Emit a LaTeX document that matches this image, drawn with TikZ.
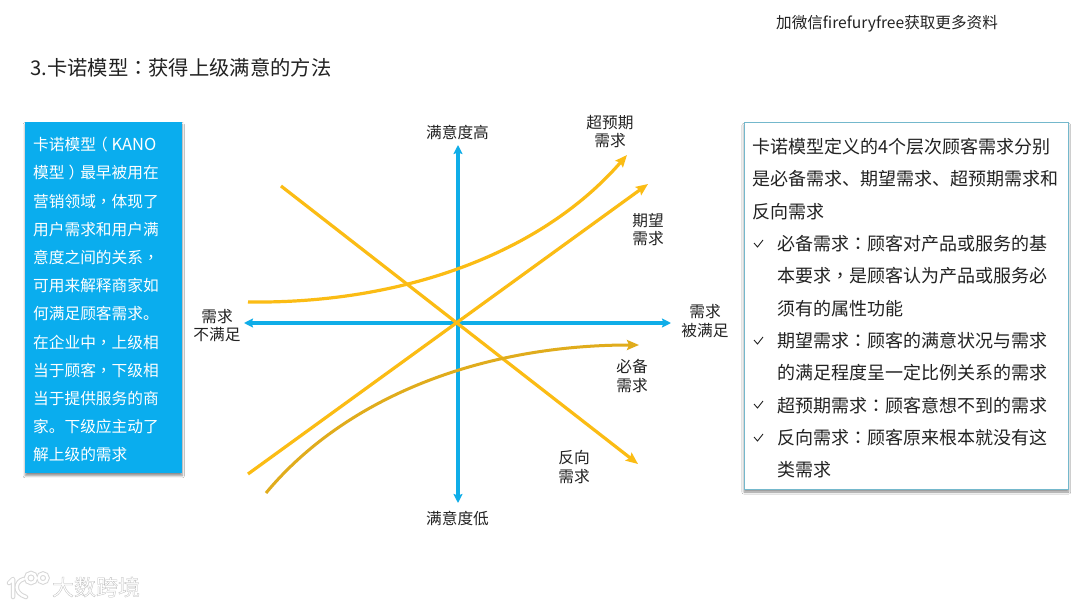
\documentclass[tikz,border=0pt]{standalone}
\usepackage{fontspec}
\setmainfont{Noto Sans CJK SC}
\newfontfamily\punctfont{Noto Sans CJK TC}
\newfontfamily\wmfont[FakeBold=1.2]{Noto Sans CJK SC}
\newcommand{\pc}{{\punctfont ，}}
\newcommand{\pk}{{\punctfont ：}}
\newcommand{\plp}{\makebox[1em][l]{\kern-0.25em（}}
\newcommand{\prp}{\makebox[1em][l]{\kern0.25em）}}
\usetikzlibrary{arrows.meta,shadows.blur}
\definecolor{axisblue}{HTML}{0FADE8}
\definecolor{curveyellow}{HTML}{FBBC14}
\definecolor{curvegold}{HTML}{E0AC1C}
\definecolor{boxblue}{HTML}{0AADEE}
\definecolor{boxline}{HTML}{74B8CC}
\definecolor{inktext}{HTML}{222222}
\tikzset{
  axisline/.style={axisblue,line width=3.2pt,{Stealth[length=9pt,width=9pt,inset=1.5pt]}-{Stealth[length=9pt,width=9pt,inset=1.5pt]}},
  curveline/.style={curveyellow,line width=3.2pt,-{Stealth[length=12pt,width=10pt,inset=2pt]}},
  goldline/.style={curvegold,line width=3pt,-{Stealth[length=12pt,width=10pt,inset=2pt]}},
  lab/.style={text=inktext,font=\fontsize{15.7}{18.5}\selectfont,align=center,inner sep=0pt},
  para/.style={text=inktext,anchor=north west,inner sep=0pt,align=left,font=\fontsize{18}{32.4}\selectfont},
  chk/.style={inktext,line width=0.9pt},
  softshadow/.style={blur shadow={shadow xshift=0pt,shadow yshift=-2.5pt,shadow blur steps=6,shadow opacity=45}},
  wm/.style={font=\wmfont\fontsize{22}{22}\selectfont,inner sep=0pt,anchor=center}
}
\begin{document}
\begin{tikzpicture}[x=1pt,y=-1pt]
\useasboundingbox (0,0) rectangle (1080,607);
\fill[white] (0,0) rectangle (1080,607);
% header
\node[text=inktext,font=\fontsize{15.6}{18}\selectfont,inner sep=0pt] (top) at (887,24) {加微信firefuryfree获取更多资料};
\node[text=inktext,font=\fontsize{20.3}{24}\selectfont,inner sep=0pt,anchor=west] (title) at (30,68) {3.卡诺模型\pk 获得上级满意的方法};
% left box
\node[softshadow,fill=boxblue,minimum width=157pt,minimum height=351pt,inner sep=0pt,anchor=north west] (lbox) at (25,122) {};
\node[anchor=north west,inner sep=0pt,align=left,text=white,font=\fontsize{15.7}{28.2}\selectfont] (ltext) at (33,137) {卡诺模型\plp{\fontsize{16.5}{28.2}\selectfont KANO}\\模型\prp 最早被用在\\营销领域\pc 体现了\\用户需求和用户满\\意度之间的关系\pc\\可用来解释商家如\\何满足顾客需求。\\在企业中\pc 上级相\\当于顾客\pc 下级相\\当于提供服务的商\\家。下级应主动了\\解上级的需求};
% right box
\node[softshadow,fill=white,draw=boxline,line width=1pt,minimum width=324.5pt,minimum height=366.5pt,inner sep=0pt,anchor=north west] (rbox) at (743.5,122.5) {};
\node[para] (intro) at (752,138) {卡诺模型定义的4个层次顾客需求分别\\是必备需求、期望需求、超预期需求和\\反向需求};
\node[para] (b1) at (777,235) {必备需求\pk 顾客对产品或服务的基\\本要求\pc 是顾客认为产品或服务必\\须有的属性功能};
\node[para] (b2) at (777,332) {期望需求\pk 顾客的满意状况与需求\\的满足程度呈一定比例关系的需求};
\node[para] (b3) at (777,397) {超预期需求\pk 顾客意想不到的需求};
\node[para] (b4) at (777,429) {反向需求\pk 顾客原来根本就没有这\\类需求};
\draw[chk] (754,243) -- (757.5,247) -- (763,240);
\draw[chk] (754,340) -- (757.5,344) -- (763,337);
\draw[chk] (754,404) -- (757.5,408) -- (763,401);
\draw[chk] (754,437) -- (757.5,441) -- (763,434);
% axes
\coordinate (vtop) at (458,145);
\coordinate (vbot) at (458,503);
\coordinate (hleft) at (244,323);
\coordinate (hright) at (671,323);
\draw[axisline] (vbot) -- (vtop);
\draw[axisline] (hleft) -- (hright);
% curves
\coordinate (sa) at (248,302);
\coordinate (sb) at (627,155);
\coordinate (ea) at (248,474);
\coordinate (eb) at (648,184);
\coordinate (ra) at (281,186);
\coordinate (rb) at (638,464);
\coordinate (ma) at (266,493);
\coordinate (mb) at (639,345);
\draw[curveline] (sa) .. controls (400,304) and (540,255) .. (sb);
\draw[curveline] (ea) -- (eb);
\draw[curveline] (ra) -- (rb);
\draw[goldline] (ma) .. controls (345,398) and (480,345) .. (mb);
% labels
\node[lab] (lhigh) at (457.5,132) {满意度高};
\node[lab] (llow) at (457.5,518) {满意度低};
\node[lab] (lleft) at (217,325.5) {需求\\不满足};
\node[lab] (lright) at (705,321) {需求\\被满足};
\node[lab] (lsuper) at (610,131.5) {超预期\\需求};
\node[lab] (lexp) at (648,229.5) {期望\\需求};
\node[lab] (lmust) at (632,376) {必备\\需求};
\node[lab] (lrev) at (574,467) {反向\\需求};
% watermark
\foreach \lw/\col in {4.5/black!16,2.5/white}{
  \draw[\col,line width=\lw pt,line cap=round,line join=round] (9,583) -- (13,579) -- (13,597);
  \draw[\col,line width=\lw pt,line cap=round] (24,579) .. controls (15,581) and (13,593) .. (26,597);
  \draw[\col,line width=\lw pt] (31,578) circle (5);
  \draw[\col,line width=\lw pt] (43,578) circle (4.5);
}
\node[wm] (wmtext) at (96,587) {\special{pdf:bcolor [1] [0.72]}大数跨境\special{pdf:ecolor}};
\end{tikzpicture}
\end{document}
